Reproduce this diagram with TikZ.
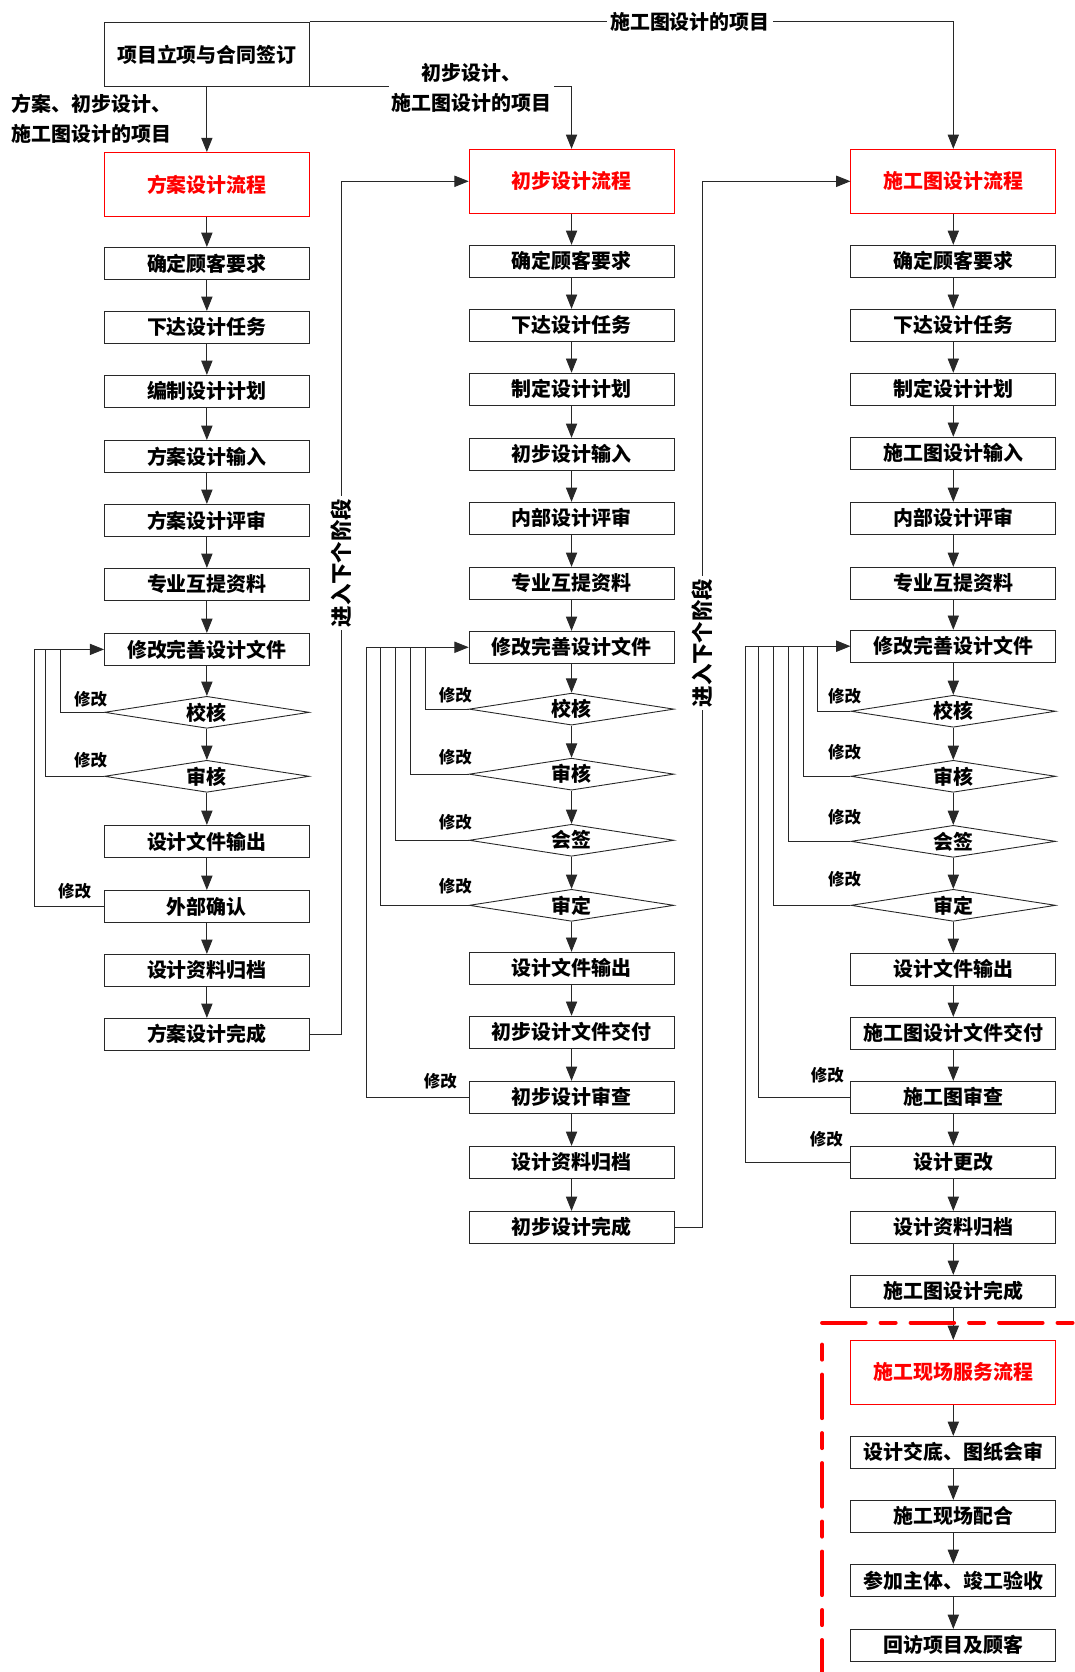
\documentclass[tikz,border=0pt]{standalone}
\usepackage{fontspec}
\setmainfont{Noto Sans CJK SC}
\usetikzlibrary{arrows.meta,shapes.geometric}
\usepackage{xcolor}
\definecolor{flowred}{RGB}{255,0,0}
\definecolor{boxline}{RGB}{40,40,40}

\tikzset{
  stepbox/.style={draw=boxline,line width=0.6pt,minimum width=4.8cm,minimum height=0.75cm,
    inner sep=0pt,font=\fontsize{13.3}{16}\selectfont\bfseries},
  headbox/.style={stepbox,draw=flowred,text=flowred,minimum height=1.5cm},
  checkbox/.style={stepbox,diamond,aspect=6},
  fixlabel/.style={inner sep=0pt,font=\fontsize{11}{13}\selectfont\bfseries},
  routelabel/.style={inner sep=2pt,fill=white,font=\fontsize{13.3}{20}\selectfont\bfseries},
  linkline/.style={draw=boxline,line width=0.6pt},
  flowarrow/.style={linkline,-{Triangle[length=9.5pt,width=7.5pt]}},
  servdash/.style={draw=flowred,line width=2.7pt,line cap=round,
    dash pattern=on 29pt off 10pt on 10pt off 10pt}
}

\begin{document}
\begin{tikzpicture}[x=0.025cm,y=-0.025cm]
  % --- canvas ---
  \useasboundingbox (0,0) rectangle (1008,1568);

  % --- project start ---
  \node[stepbox,minimum height=1.5cm] (xm) at (194,51) {项目立项与合同签订};

  % --- scheme design column ---
  \node[headbox] (fa0) at (194,173) {方案设计流程};
  \foreach \n/\y/\t in {1/247/确定顾客要求,2/307/下达设计任务,3/367/编制设计计划,
    4/428/方案设计输入,5/488/方案设计评审,6/548/专业互提资料,7/609/修改完善设计文件,
    10/789/设计文件输出,11/850/外部确认,12/910/设计资料归档,13/970/方案设计完成}
    \node[stepbox] (fa\n) at (194,\y) {\t};
  \foreach \n/\y/\t in {8/668/校核,9/728/审核}
    \node[checkbox] (fa\n) at (194,\y) {\t};
  \foreach \i in {0,...,12}{
    \pgfmathtruncatemacro{\j}{\i+1}
    \draw[flowarrow] (fa\i.south) -- (fa\j.north);
  }

  % --- preliminary design column ---
  \node[headbox] (cb0) at (536,170) {初步设计流程};
  \foreach \n/\y/\t in {1/245/确定顾客要求,2/305/下达设计任务,3/365/制定设计计划,
    4/426/初步设计输入,5/486/内部设计评审,6/547/专业互提资料,7/607/修改完善设计文件,
    12/908/设计文件输出,13/968/初步设计文件交付,14/1029/初步设计审查,
    15/1090/设计资料归档,16/1151/初步设计完成}
    \node[stepbox] (cb\n) at (536,\y) {\t};
  \foreach \n/\y/\t in {8/665/校核,9/726/审核,10/788/会签,11/849/审定}
    \node[checkbox] (cb\n) at (536,\y) {\t};
  \foreach \i in {0,...,15}{
    \pgfmathtruncatemacro{\j}{\i+1}
    \draw[flowarrow] (cb\i.south) -- (cb\j.north);
  }

  % --- construction drawing column ---
  \node[headbox] (sg0) at (894,170) {施工图设计流程};
  \foreach \n/\y/\t in {1/245/确定顾客要求,2/305/下达设计任务,3/365/制定设计计划,
    4/425/施工图设计输入,5/486/内部设计评审,6/547/专业互提资料,7/606/修改完善设计文件,
    12/909/设计文件输出,13/969/施工图设计文件交付,14/1029/施工图审查,
    15/1090/设计更改,16/1151/设计资料归档,17/1211/施工图设计完成}
    \node[stepbox] (sg\n) at (894,\y) {\t};
  \foreach \n/\y/\t in {8/667/校核,9/728/审核,10/789/会签,11/849/审定}
    \node[checkbox] (sg\n) at (894,\y) {\t};
  \foreach \i in {0,...,16}{
    \pgfmathtruncatemacro{\j}{\i+1}
    \draw[flowarrow] (sg\i.south) -- (sg\j.north);
  }

  % --- site service ---
  \node[headbox] (fw0) at (894,1287) {施工现场服务流程};
  \foreach \n/\y/\t in {1/1362/设计交底、图纸会审,2/1422/施工现场配合,
    3/1482/参加主体、竣工验收,4/1543/回访项目及顾客}
    \node[stepbox] (fw\n) at (894,\y) {\t};
  \draw[flowarrow] (sg17.south) -- (fw0.north);
  \foreach \i in {0,...,3}{
    \pgfmathtruncatemacro{\j}{\i+1}
    \draw[flowarrow] (fw\i.south) -- (fw\j.north);
  }

  % --- revision loops ---
  \foreach \n/\x in {8/57,9/43}{
    \coordinate (fa-k\n) at (\x,609);
    \draw[linkline] (fa\n.west) -| (fa-k\n);
  }
  \coordinate (fa-k11) at (32,609);
  \draw[flowarrow] (fa11.west) -| (fa-k11) -- (fa7.west);

  \foreach \n/\x in {8/399,9/385,10/371,11/357}{
    \coordinate (cb-k\n) at (\x,607);
    \draw[linkline] (cb\n.west) -| (cb-k\n);
  }
  \coordinate (cb-k14) at (344,607);
  \draw[flowarrow] (cb14.west) -| (cb-k14) -- (cb7.west);

  \foreach \n/\x in {8/767,9/753,10/739,11/725,14/711}{
    \coordinate (sg-k\n) at (\x,606);
    \draw[linkline] (sg\n.west) -| (sg-k\n);
  }
  \coordinate (sg-k15) at (699,606);
  \draw[flowarrow] (sg15.west) -| (sg-k15) -- (sg7.west);

  \foreach \n/\x/\y in {8/85/656,9/85/713,11/70/836}
    \node[fixlabel] (fa-m\n) at (\x,\y) {修改};
  \foreach \n/\x/\y in {8/427/652,9/427/710,10/427/771,11/427/831,14/413/1014}
    \node[fixlabel] (cb-m\n) at (\x,\y) {修改};
  \foreach \n/\x/\y in {8/792/653,9/792/705,10/792/766,11/792/825,14/776/1008,15/775/1068}
    \node[fixlabel] (sg-m\n) at (\x,\y) {修改};

  % --- next stage ---
  \coordinate (fa-up) at (320,970);
  \draw[flowarrow] (fa13.east) -- (fa-up) |- (cb0.west);
  \node[routelabel,rotate=90,font=\fontsize{14.3}{20}\selectfont\bfseries] (fa-go) at (320,528) {进入下个阶段};
  \coordinate (cb-up) at (659,1151);
  \draw[flowarrow] (cb16.east) -- (cb-up) |- (sg0.west);
  \node[routelabel,rotate=90,font=\fontsize{14.3}{20}\selectfont\bfseries] (cb-go) at (659,603) {进入下个阶段};

  % --- project routing ---
  \draw[flowarrow] (xm.south) -- (fa0.north);
  \draw[flowarrow] (xm.south east) -| (cb0.north);
  \draw[flowarrow] (xm.north east) -| (sg0.north);
  \node[routelabel,fill=none,anchor=west,align=left] (lb-all) at (8,111)
    {方案、初步设计、\\施工图设计的项目};
  \node[routelabel,align=center] (lb-cb) at (442,82) {初步设计、\\施工图设计的项目};
  \node[routelabel] (lb-sg) at (647,21) {施工图设计的项目};

  % --- service zone ---
  \draw[servdash] (771,1240.5) -- (1030,1240.5);
  \draw[servdash,dash phase=39pt] (771,1261) -- (771,1590);

\end{tikzpicture}
\end{document}
